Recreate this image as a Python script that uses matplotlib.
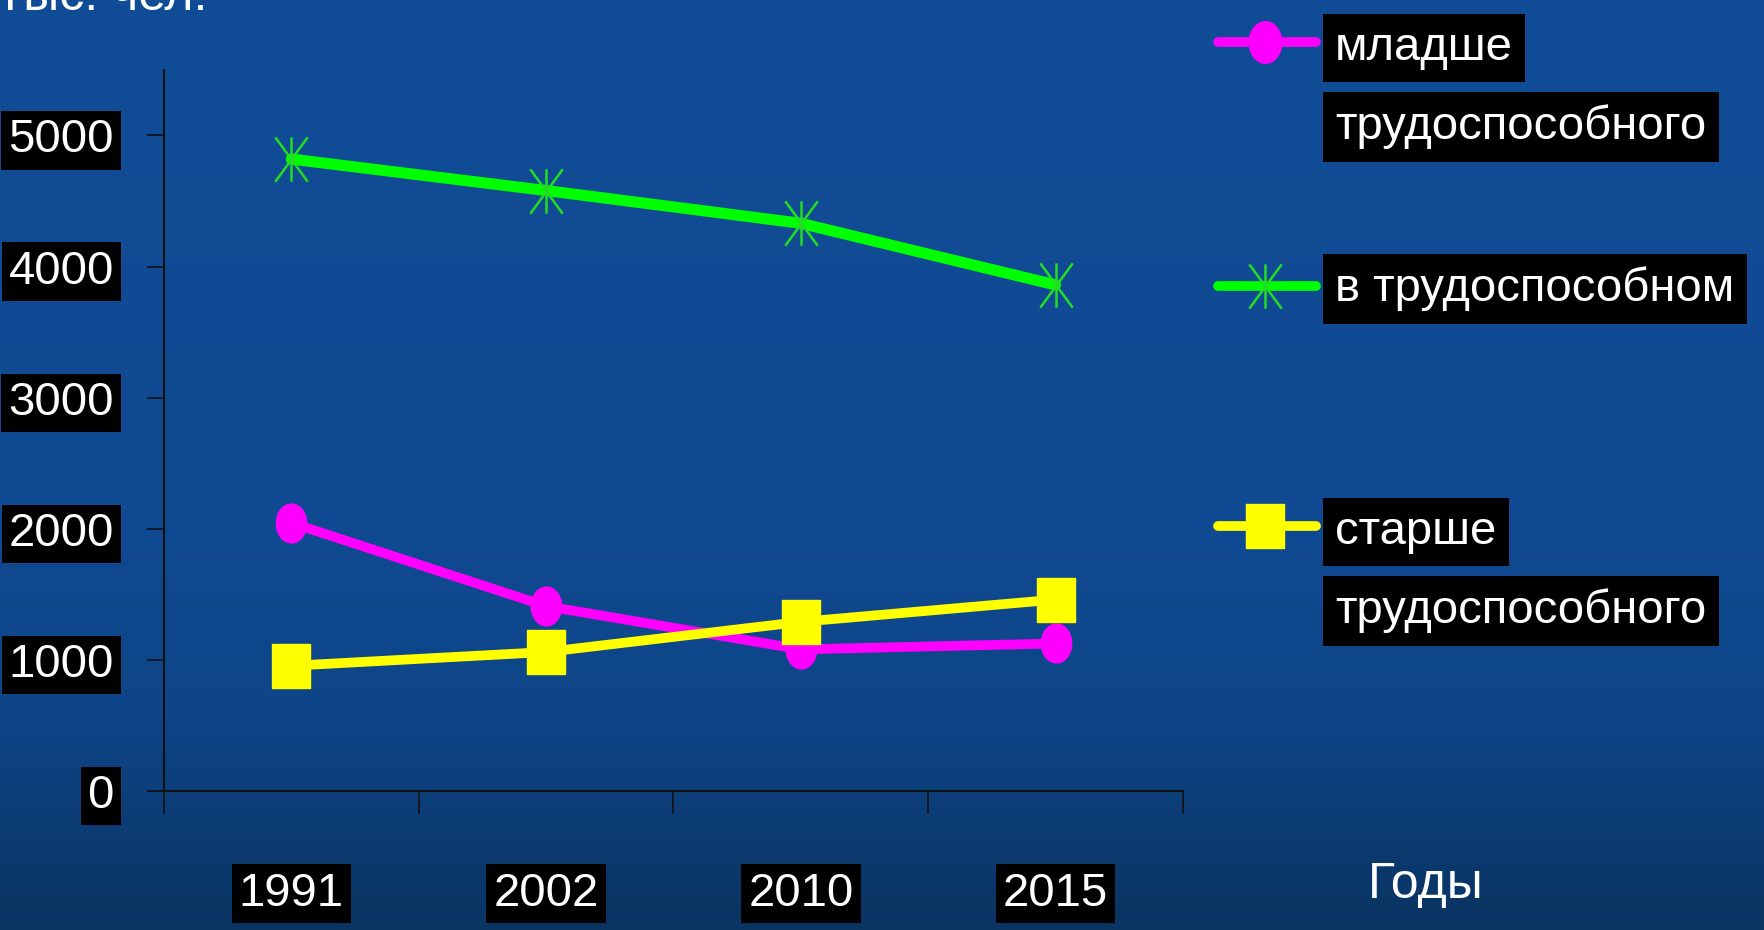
import numpy as np
import matplotlib.pyplot as plt
from matplotlib.path import Path
from matplotlib.lines import Line2D
from matplotlib.colors import LinearSegmentedColormap

years = ['1991', '2002', '2010', '2015']
younger = [2045, 1410, 1080, 1125]
working = [4820, 4580, 4330, 3860]
older = [955, 1060, 1290, 1460]
labels = ['младше\nтрудоспособного', 'в трудоспособном', 'старше\nтрудоспособного']
yticks = [0, 1000, 2000, 3000, 4000, 5000]

plt.rcParams['font.family'] = ['Liberation Sans', 'DejaVu Sans']

# markers
t = np.linspace(0, 2 * np.pi, 40)
ellipse = np.column_stack([0.78 * np.cos(t), np.sin(t)])
square = [(-0.87, -1), (0.87, -1), (0.87, 1), (-0.87, 1), (-0.87, -1)]
star = Path([(0, -1), (0, 1), (-0.73, -1), (0.73, 1), (-0.73, 1), (0.73, -1)],
            [Path.MOVETO, Path.LINETO, Path.MOVETO, Path.LINETO, Path.MOVETO, Path.LINETO])

fig = plt.figure(figsize=(17.65, 9.3), dpi=100)

# background
bg = fig.add_axes([0, 0, 1, 1], zorder=-10)
cmap = LinearSegmentedColormap.from_list('bg', [(0, '#0a3462'), (0.22, '#0e4587'), (0.45, '#104a93'), (1, '#114c96')])
bg.imshow(np.linspace(0, 1, 200)[:, None], aspect='auto', cmap=cmap, origin='lower', extent=[0, 1, 0, 1])
bg.axis('off')

ax = fig.add_axes([0.0929, 0.1495, 0.5773, 0.7753])
ax.patch.set_alpha(0)
x = np.arange(len(years))

ax.plot(x, working, color='#00ff00', lw=8, solid_capstyle='round', zorder=3)
ax.plot(x, working, ls='none', marker=star, ms=32, mec='#22dd22', mew=1.8, zorder=4)
ax.plot(x, younger, color='#ff00ff', lw=7, marker=ellipse, ms=28, mfc='#ff00ff', mec='#ff00ff', zorder=3)
ax.plot(x, older, color='#ffff00', lw=7, marker=square, ms=32, mfc='#ffff00', mec='#ffff00', zorder=4)

ax.set_xlim(-0.5, 3.5)
ax.set_ylim(0, 5500)
for s in ['top', 'right']:
    ax.spines[s].set_visible(False)
for s in ['left', 'bottom']:
    ax.spines[s].set_color('#111111')
    ax.spines[s].set_linewidth(1.5)

ax.set_xticks(np.arange(-0.5, 4, 1))
ax.set_xticklabels([])
ax.set_xticks(x, minor=True)
ax.set_xticklabels(years, minor=True)
ax.tick_params(axis='x', which='major', length=16.5, width=1.2, color='#111111', direction='out')
ax.tick_params(axis='x', which='minor', length=0, pad=58)
ax.set_yticks(yticks)
ax.set_yticklabels([str(v) for v in yticks])
ax.tick_params(axis='y', length=12, width=1.2, color='#111111', direction='out', pad=24)
box = dict(boxstyle='square,pad=0.15', fc='black', ec='none')
for lab in ax.get_yticklabels() + ax.get_xticklabels(minor=True):
    lab.set_fontsize(34)
    lab.set_color('white')
    lab.set_bbox(box)

fig.text(-0.003, 0.989, 'Тыс. чел.', fontsize=36, color='white', va='baseline', ha='left')
fig.text(0.808, 0.048, 'Годы', fontsize=36, color='white', va='center', ha='center')

# legend
H = 930.0
def fy(p):
    return 1 - p / H

legend_rows = [
    (42, dict(color='#ff00ff', marker=ellipse, ms=30, mfc='#ff00ff', mec='#ff00ff'), [48, 127], labels[0].split('\n')),
    (286, dict(color='#00ff00', marker=star, ms=32, mfc='none', mec='#22dd22', mew=1.8), [289], [labels[1]]),
    (526, dict(color='#ffff00', marker=square, ms=32, mfc='#ffff00', mec='#ffff00'), [532, 611], labels[2].split('\n')),
]
for ly, style, ty, lines in legend_rows:
    fig.add_artist(Line2D([1218 / 1765, 1316 / 1765], [fy(ly), fy(ly)], lw=7, solid_capstyle='round',
                          transform=fig.transFigure, color=style['color']))
    mk = dict(style)
    mk.pop('color')
    fig.add_artist(Line2D([1265 / 1765], [fy(ly)], ls='none', transform=fig.transFigure, **mk))
    for yy, txt in zip(ty, lines):
        fig.text(1335 / 1765, fy(yy), txt, fontsize=34, color='white', va='center', ha='left',
                 bbox=dict(boxstyle='square,pad=0.26', fc='black', ec='none'))

fig.savefig('out.png', dpi=100)
